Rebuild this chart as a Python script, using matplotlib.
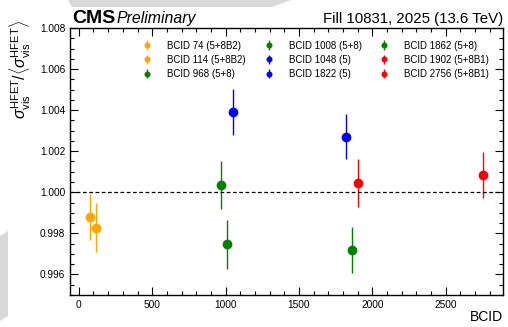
import matplotlib
matplotlib.use('Agg')
import matplotlib.pyplot as plt
from matplotlib.patches import Polygon
from matplotlib.ticker import MultipleLocator

plt.rcParams['font.family'] = ['Liberation Sans', 'DejaVu Sans']
plt.rcParams['mathtext.fontset'] = 'custom'
plt.rcParams['mathtext.rm'] = 'Liberation Sans'
plt.rcParams['mathtext.it'] = 'Liberation Sans:italic'

# BCID data
bcids = [74, 114, 968, 1008, 1048, 1822, 1862, 1902, 2756]
labels = ['BCID 74 (5+8B2)', 'BCID 114 (5+8B2)', 'BCID 968 (5+8)',
          'BCID 1008 (5+8)', 'BCID 1048 (5)', 'BCID 1822 (5)',
          'BCID 1862 (5+8)', 'BCID 1902 (5+8B1)', 'BCID 2756 (5+8B1)']
ratio = [0.99881, 0.99828, 1.00036, 0.99747, 1.00392, 1.00271, 0.99719, 1.00045, 1.00084]
err = [0.00111, 0.00119, 0.00116, 0.00120, 0.00113, 0.00110, 0.00113, 0.00118, 0.00110]
colors = ['orange', 'orange', 'green', 'green', 'blue', 'blue', 'green', 'red', 'red']

W, H = 508, 327
fig = plt.figure(figsize=(W / 100, H / 100), dpi=100)


def px(pts):
    # pixel coords (from top-left) -> figure fraction
    return [(x / W, 1 - y / H) for x, y in pts]


# faint grey watermark shapes in the background
fig.patches.append(Polygon(px([(68, 0), (291, 0), (272, 7), (72, 7)]),
                           closed=True, transform=fig.transFigure, fc='#d9d9d9', ec='none', zorder=0))
fig.patches.append(Polygon(px([(0, 236), (8, 231), (8, 316), (0, 321)]),
                           closed=True, transform=fig.transFigure, fc='#d9d9d9', ec='none', zorder=0))

ax = fig.add_axes([0.1378, 0.0979, 0.8522, 0.8165])
ax.set_facecolor('none')

for x, y, e, c, lab in zip(bcids, ratio, err, colors, labels):
    ax.errorbar(x, y, yerr=e, fmt='o', color=c, ms=6, elinewidth=1.0,
                capsize=0, label=lab)

ax.axhline(1.0, color='black', ls='--', lw=0.9, dashes=(3, 2))

ax.set_xlim(-60, 2890)
ax.set_ylim(0.995, 1.008)
ax.xaxis.set_major_locator(MultipleLocator(500))
ax.xaxis.set_minor_locator(MultipleLocator(100))
ax.yaxis.set_major_locator(MultipleLocator(0.002))
ax.yaxis.set_minor_locator(MultipleLocator(0.0005))
ax.yaxis.set_major_formatter(plt.FormatStrFormatter('%.3f'))
ax.tick_params(which='both', direction='in', top=True, right=True, labelsize=7.3, width=0.8)
ax.tick_params(which='major', length=6)
ax.tick_params(which='minor', length=3)
for sp in ax.spines.values():
    sp.set_linewidth(1.0)

leg = ax.legend(ncol=3, loc='upper left', bbox_to_anchor=(0.145, 0.985), frameon=False,
                fontsize=7, markerscale=0.55, handlelength=1.2, handletextpad=1.46,
                columnspacing=1.72, labelspacing=0.42)

fig.text(0.1417, 0.931, 'CMS', fontsize=14, fontweight='bold', ha='left', va='baseline')
fig.text(0.230, 0.931, 'Preliminary', fontsize=11.4, style='italic', ha='left', va='baseline')
fig.text(0.990, 0.931, 'Fill 10831, 2025 (13.6 TeV)', fontsize=10.8, ha='right', va='baseline')
fig.text(0.990, 0.019, 'BCID', fontsize=10, ha='right', va='baseline')
fig.text(0.040, 0.94, r'$\sigma_{\mathrm{vis}}^{\mathrm{HFET}}/\langle\sigma_{\mathrm{vis}}^{\mathrm{HFET}}\rangle$',
         fontsize=11.4, rotation=90, ha='center', va='top')

fig.savefig('out.png', dpi=100)
